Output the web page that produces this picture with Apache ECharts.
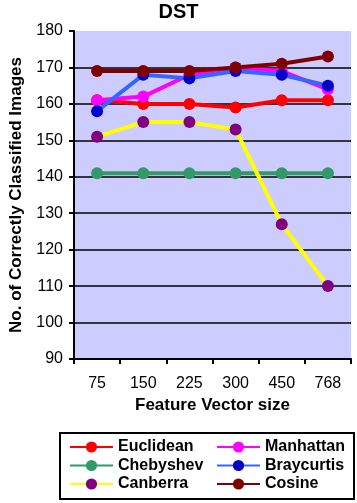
<!DOCTYPE html>
<html><head><meta charset="utf-8">
<script src="https://cdn.jsdelivr.net/npm/echarts@6/dist/echarts.min.js"></script>
<style>html,body{margin:0;padding:0;background:#fff}#c{width:357px;height:503px}</style>
</head><body><div id="c"></div>
<script>
const categories = ['75','150','225','300','450','768'];
const euclidean  = [161,160,160,159,161,161];
const manhattan  = [161,162,168,170,169,164];
const chebyshev  = [141,141,141,141,141,141];
const braycurtis = [158,168,167,169,168,165];
const canberra   = [151,155,155,153,127,110];
const cosine     = [169,169,169,170,171,173];
const yTicks = {min:90, max:180, interval:10};

const font = 'Liberation Sans, Arial, sans-serif';
function mk(name, data, lineColor, markColor){
  return {name, type:'line', data, symbol:'circle', symbolSize:12,
    lineStyle:{color:lineColor, width:4}, itemStyle:{color:markColor},
    emphasis:{disabled:true}, animation:false, z: 3};
}
const series = [
  mk('Euclidean', euclidean, '#ff0000', '#ff0000'),
  mk('Manhattan', manhattan, '#ff00ff', '#ff00ff'),
  mk('Chebyshev', chebyshev, '#339966', '#339966'),
  mk('Braycurtis', braycurtis, '#3366ff', '#0000cc'),
  mk('Canberra', canberra, '#ffff00', '#800080'),
  mk('Cosine', cosine, '#800000', '#800000')
];

const chart = echarts.init(document.getElementById('c'), null, {renderer:'canvas'});
const splitColors = [];
for (let v = yTicks.min; v <= yTicks.max; v += yTicks.interval) splitColors.push(v === yTicks.max ? 'rgba(0,0,0,0)' : '#000');
const legendCommon = {orient:'vertical', itemWidth:43, itemHeight:14, itemGap:2.5, padding:0,
  textStyle:{fontFamily:font, fontWeight:'bold', fontSize:16, lineHeight:14, color:'#000'}, top:439, selectedMode:false};
chart.setOption({
  animation:false,
  title:{text:'DST', left:'center', top:-3, textStyle:{fontFamily:font, fontWeight:'bold', fontSize:20, color:'#000'}},
  grid:{left:73, right:6, top:31, bottom:144, show:true, backgroundColor:'#ccccff', borderWidth:0},
  xAxis:{type:'category', data:categories, boundaryGap:true,
    name:'Feature Vector size', nameLocation:'middle', nameGap:31,
    nameTextStyle:{fontFamily:font, fontWeight:'bold', fontSize:17, color:'#000'},
    axisLine:{lineStyle:{color:'#000', width:2}},
    axisTick:{show:true, length:5, alignWithLabel:false, lineStyle:{color:'#000', width:2}},
    axisLabel:{fontFamily:font, fontSize:16, color:'#000', margin:17},
    splitLine:{show:false}},
  yAxis:{type:'value', min:yTicks.min, max:yTicks.max, interval:yTicks.interval,
    name:'No. of Correctly Classified Images', nameLocation:'middle', nameGap:49,
    nameTextStyle:{fontFamily:font, fontWeight:'bold', fontSize:17, color:'#000'},
    axisLine:{show:true, lineStyle:{color:'#000', width:2}},
    axisTick:{show:true, length:5, lineStyle:{color:'#000', width:2}},
    axisLabel:{fontFamily:font, fontSize:16, color:'#000', margin:11},
    splitLine:{show:true, lineStyle:{color:splitColors, width:1.5}}},
  legend:[
    Object.assign({}, legendCommon, {left:69, data:['Euclidean','Chebyshev','Canberra']}),
    Object.assign({}, legendCommon, {left:216, data:['Manhattan','Braycurtis','Cosine']})
  ],
  graphic:[{type:'rect', shape:{x:60, y:433, width:294, height:66}, style:{fill:'none', stroke:'#000', lineWidth:2}}],
  series
});
</script></body></html>
